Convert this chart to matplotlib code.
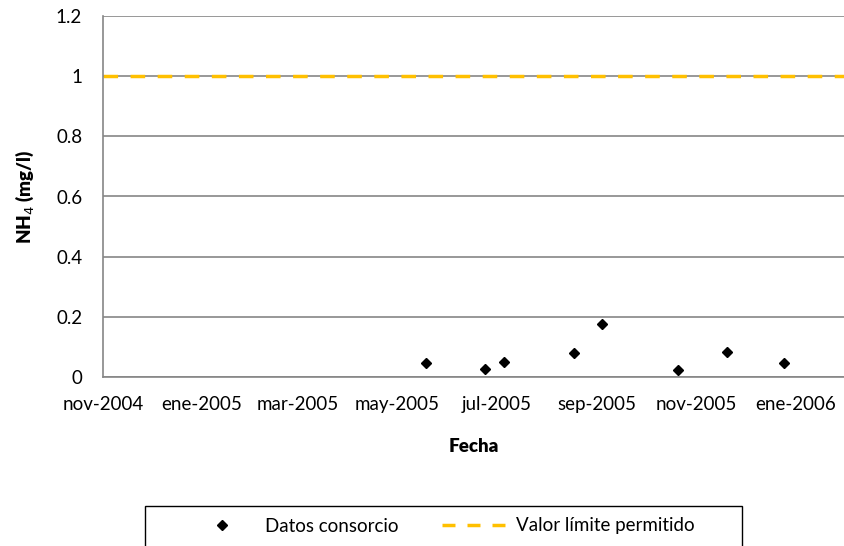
import datetime as dt
import matplotlib
matplotlib.use("Agg")
import matplotlib.pyplot as plt
import matplotlib.dates as mdates
from matplotlib.lines import Line2D
from matplotlib.patches import Rectangle

plt.rcParams['font.family'] = ['Lato', 'DejaVu Sans']

# data
fechas = [dt.date(2005, 5, 19), dt.date(2005, 6, 24), dt.date(2005, 7, 6),
          dt.date(2005, 8, 18), dt.date(2005, 9, 4), dt.date(2005, 10, 21),
          dt.date(2005, 11, 20), dt.date(2005, 12, 25)]
nh4 = [0.047, 0.028, 0.049, 0.080, 0.177, 0.022, 0.083, 0.046]
limite_fechas = [dt.date(2004, 11, 1), dt.date(2006, 1, 31)]
limite = [1.0, 1.0]
meses = ['ene', 'feb', 'mar', 'abr', 'may', 'jun',
         'jul', 'ago', 'sep', 'oct', 'nov', 'dic']

fs = 13.5
W, H = 845, 546

fig = plt.figure(figsize=(W / 100, H / 100), dpi=100)
ax = fig.add_axes([103 / W, 1 - 377 / H, 741 / W, 361 / H])

datos, = ax.plot(fechas, nh4, linestyle='none', marker='D', markersize=4.8,
                 color='black', label='Datos consorcio', zorder=3)
ax.plot(limite_fechas, limite, linestyle=(0, (4.2, 3.6)), linewidth=2.5,
        color='#FFC000', zorder=2)

ax.set_xlim(limite_fechas[0], limite_fechas[1])
ax.set_ylim(0, 1.2)
ax.set_yticks([0, 0.2, 0.4, 0.6, 0.8, 1, 1.2])
ax.set_yticklabels(['0', '0.2', '0.4', '0.6', '0.8', '1', '1.2'])
ax.xaxis.set_major_locator(mdates.MonthLocator(bymonth=[1, 3, 5, 7, 9, 11]))
ax.xaxis.set_major_formatter(plt.FuncFormatter(
    lambda v, p: f"{meses[mdates.num2date(v).month - 1]}-{mdates.num2date(v).year}"))

ax.grid(axis='y', color='#868686', linewidth=1.2, zorder=1)
ax.set_axisbelow(True)
for s in ['top', 'right']:
    ax.spines[s].set_visible(False)
for s in ['left', 'bottom']:
    ax.spines[s].set_color('#868686')
    ax.spines[s].set_linewidth(1.2)
ax.tick_params(axis='both', length=0, labelsize=fs, colors='black')
ax.tick_params(axis='y', pad=15)
ax.tick_params(axis='x', pad=14)

ax.set_xlabel('Fecha', fontsize=fs, fontweight='heavy', labelpad=18)
ax.set_ylabel('NH$_4$ (mg/l)', fontsize=fs, fontweight='heavy', labelpad=14)

# legend: proxy for the dashed line, frame drawn separately (Excel style box)
limite_proxy = Line2D([], [], color='#FFC000', linewidth=2.5,
                      linestyle=(0, (3.74, 3.46)))
leg = fig.legend([datos, limite_proxy], ['Datos consorcio', 'Valor límite permitido'],
                 loc='center left', bbox_to_anchor=(191 / W, 1 - 526 / H),
                 ncol=2, frameon=False, fontsize=fs, borderpad=0, borderaxespad=0,
                 handlelength=3.36, handletextpad=0.6, columnspacing=2.3)
fig.patches.append(Rectangle((145 / W, -0.01), 597 / W, 0.01 + 1 - 506 / H,
                             transform=fig.transFigure, fill=False,
                             edgecolor='black', linewidth=1.0))

fig.savefig('out.png', dpi=100)
